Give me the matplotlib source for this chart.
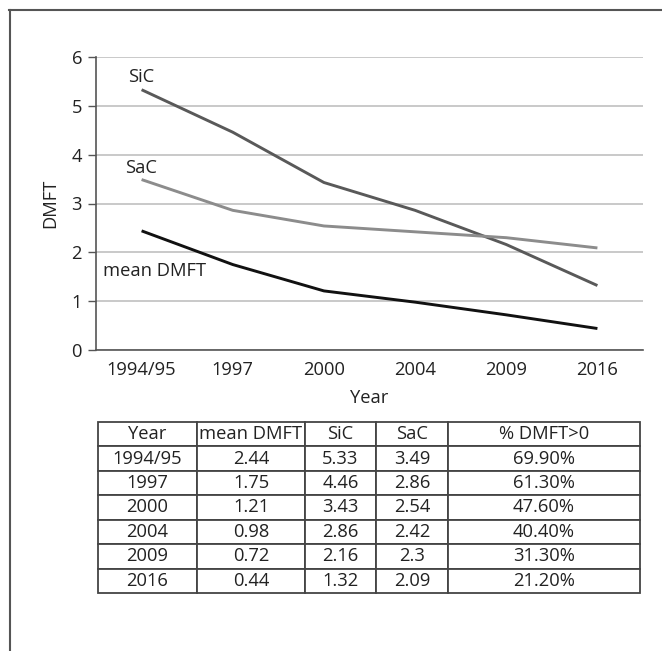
import matplotlib
matplotlib.use("Agg")
import matplotlib.pyplot as plt
from matplotlib.lines import Line2D

plt.rcParams['font.family'] = ['Open Sans', 'DejaVu Sans']

years = ["1994/95", "1997", "2000", "2004", "2009", "2016"]
mean_dmft = [2.44, 1.75, 1.21, 0.98, 0.72, 0.44]
sic = [5.33, 4.46, 3.43, 2.86, 2.16, 1.32]
sac = [3.49, 2.86, 2.54, 2.42, 2.3, 2.09]
pct_dmft = ["69.90%", "61.30%", "47.60%", "40.40%", "31.30%", "21.20%"]
col_labels = ["Year", "mean DMFT", "SiC", "SaC", "% DMFT>0"]

W, H = 662, 651
fig = plt.figure(figsize=(W / 100, H / 100), dpi=100)
FS = 13.2

def px_axes(x0, y0, x1, y1):
    return fig.add_axes([x0 / W, 1 - y1 / H, (x1 - x0) / W, (y1 - y0) / H])

# outer frame (top and left)
fig.add_artist(Line2D([9 / W, 1], [1 - 10 / H, 1 - 10 / H], color="#555555", lw=1.5, transform=fig.transFigure))
fig.add_artist(Line2D([10 / W, 10 / W], [0, 1 - 10 / H], color="#555555", lw=1.5, transform=fig.transFigure))

ax = px_axes(96, 57, 643, 350)
x = list(range(len(years)))
ax.plot(x, sic, color="#595959", lw=2.1, solid_capstyle="butt")
ax.plot(x, sac, color="#8c8c8c", lw=2.1, solid_capstyle="butt")
ax.plot(x, mean_dmft, color="#111111", lw=2.1, solid_capstyle="butt")
ax.set_xlim(-0.5, len(years) - 0.5)
ax.set_ylim(0, 6)
ax.set_yticks(range(0, 7))
ax.set_xticks(x)
ax.set_xticklabels(years)
ax.tick_params(axis="x", length=0, labelsize=FS, pad=8, colors="#222222")
ax.tick_params(axis="y", length=6, width=1, color="#555555", labelsize=FS, pad=4, labelcolor="#222222")
ax.grid(axis="y", color="#c0c0c0", lw=1.2)
ax.set_axisbelow(True)
for s in ["top", "right"]:
    ax.spines[s].set_visible(False)
ax.spines["left"].set_color("#555555")
ax.spines["bottom"].set_color("#555555")
ax.spines["left"].set_linewidth(1.2)
ax.spines["bottom"].set_linewidth(1.2)
ax.set_xlabel("Year", fontsize=FS, labelpad=7, color="#222222")
ax.set_ylabel("DMFT", fontsize=FS, labelpad=9, color="#222222")

ax.text(-0.15, 5.6, "SiC", fontsize=FS, color="#222222", va="center")
ax.text(-0.18, 3.72, "SaC", fontsize=FS, color="#222222", va="center")
ax.text(-0.42, 1.61, "mean DMFT", fontsize=FS, color="#222222", va="center")

# table
tax = px_axes(98, 422, 640, 593)
tax.axis("off")
rows = [[years[i], f"{mean_dmft[i]:g}", f"{sic[i]:g}", f"{sac[i]:g}", pct_dmft[i]] for i in range(len(years))]
bounds = [98, 197, 305, 376, 448, 640]
widths = [(bounds[i + 1] - bounds[i]) / (bounds[-1] - bounds[0]) for i in range(5)]
tbl = tax.table(cellText=rows, colLabels=col_labels, colWidths=widths, cellLoc="center",
                 loc="center", bbox=[0, 0, 1, 1])
tbl.auto_set_font_size(False)
tbl.set_fontsize(FS)
for (r, c), cell in tbl.get_celld().items():
    cell.set_edgecolor("#444444")
    cell.set_linewidth(1.3)
    cell.get_text().set_color("#222222")

fig.savefig("out.png", dpi=100)
